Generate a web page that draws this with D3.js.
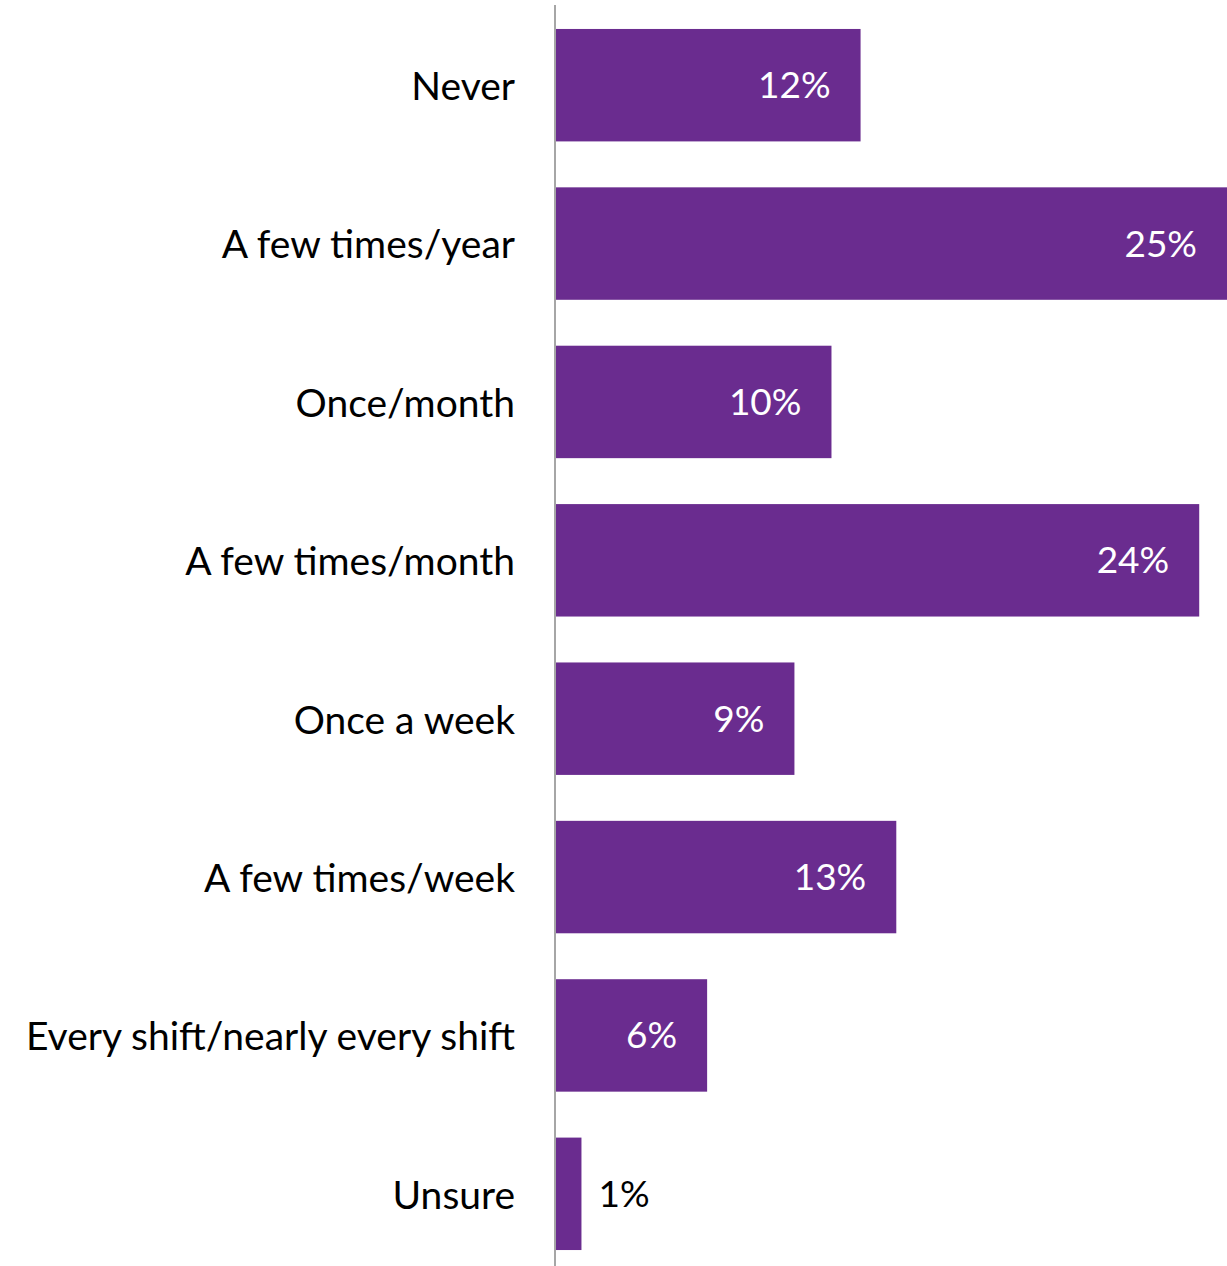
<!DOCTYPE html>
<html>
<head>
<meta charset="utf-8">
<script src="https://cdn.jsdelivr.net/npm/d3@7"></script>
<style>
  body { margin: 0; background: #fff; }
  text { font-family: Lato, "Open Sans", sans-serif; }
</style>
</head>
<body>
<svg id="chart" width="1227" height="1266"></svg>
<script>
// Categories, top to bottom
const categories = [
    "Never",
    "A few times/year",
    "Once/month",
    "A few times/month",
    "Once a week",
    "A few times/week",
    "Every shift/nearly every shift",
    "Unsure"
]

// Share of respondents (%)
const values = [11.55, 25.45, 10.45, 24.35, 9.05, 12.9, 5.75, 1.0]

const svgEl = d3.select("#chart")
const width = 1227, height = 1266
const margin = { top: 5, right: 0, bottom: 0, left: 555 }

// Scales
const x = d3.scaleLinear()
    .domain([0, 25.4])
    .range([margin.left, width - margin.right])

const y = d3.scaleBand()
    .domain(categories)
    .range([margin.top + 1, height + 7])
    .paddingInner(0.29)
    .paddingOuter(0.145)

// Bars
svgEl.append("g")
    .selectAll("rect")
    .data(values)
    .join("rect")
    .attr("x", x(0))
    .attr("y", (d, i) => y(categories[i]))
    .attr("width", d => x(d) - x(0))
    .attr("height", y.bandwidth())
    .attr("fill", "#6a2c8f")

// Value labels: inside the bar end, outside for tiny bars
svgEl.append("g")
    .selectAll("text")
    .data(values)
    .join("text")
    .attr("x", d => d < 3 ? x(d) + 17 : Math.min(x(d), width) - 30)
    .attr("y", (d, i) => y(categories[i]) + y.bandwidth() / 2)
    .attr("dy", "0.35em")
    .attr("text-anchor", d => d < 3 ? "start" : "end")
    .attr("fill", d => d < 3 ? "#000" : "#fff")
    .attr("font-size", 37)
    .text(d => Math.round(d) + "%")

// Category axis
const yAxis = svgEl.append("g")
    .attr("transform", `translate(${margin.left},0)`)
    .call(d3.axisLeft(y).tickSize(0).tickPadding(40))

yAxis.select(".domain")
    .attr("d", `M0,${margin.top}V${height}`)
    .attr("stroke", "#a6a6a6")
    .attr("stroke-width", 2)

yAxis.selectAll("text")
    .attr("font-size", 39)
    .attr("dy", "0.38em")
    .attr("fill", "#000")
    .style("font-family", "Lato, 'Open Sans', sans-serif")
</script>
</body>
</html>
